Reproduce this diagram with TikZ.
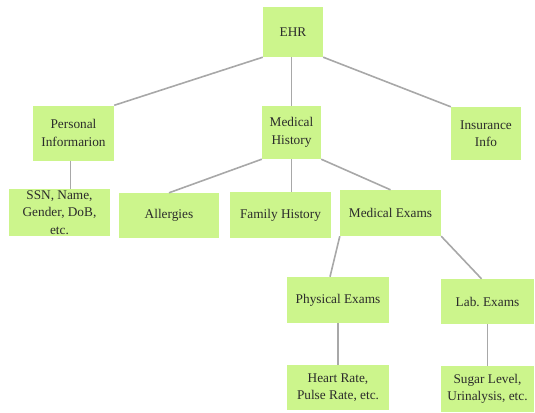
\documentclass[tikz,border=0pt]{standalone}
\usepackage{fontspec}
\setmainfont{Liberation Serif}
\definecolor{boxgreen}{HTML}{CCF58C}
\definecolor{linkgray}{HTML}{A8A8A8}
\definecolor{inkgray}{HTML}{2B2B2B}
\begin{document}
\begin{tikzpicture}[x=1pt,y=-1pt,
  every node/.style={font=\fontsize{13.3}{17.5}\selectfont,text=inkgray},
  box/.style={fill=boxgreen,inner sep=0pt,align=center},
  link/.style={draw=linkgray,line width=1.6pt}]
\useasboundingbox (0,0) rectangle (535,412);
% top level
\node[box,minimum width=60,minimum height=50] (ehr) at (293,32) {EHR};
\node[box,minimum width=81,minimum height=55] (pers) at (73.5,133) {Personal\\Informarion};
\node[box,minimum width=59,minimum height=53] (hist) at (291.5,132.5) {Medical\\History};
\node[box,minimum width=70,minimum height=53] (ins) at (486,133.5) {Insurance\\Info};
% second level
\node[box,minimum width=101,minimum height=47] (ssn) at (59.5,212.5) {SSN, Name,\\Gender, DoB,\\etc.};
\node[box,minimum width=100,minimum height=45] (allerg) at (169,215.5) {Allergies};
\node[box,minimum width=101,minimum height=46] (fam) at (280.5,215) {Family History};
\node[box,minimum width=101,minimum height=46] (exams) at (390.5,213) {Medical Exams};
% exams
\node[box,minimum width=102,minimum height=46] (phys) at (338,300) {Physical Exams};
\node[box,minimum width=93,minimum height=45] (lab) at (487.5,301.5) {Lab.\ Exams};
\node[box,minimum width=102,minimum height=45] (heart) at (338,387.5) {Heart Rate,\\Pulse Rate, etc.};
\node[box,minimum width=93,minimum height=46] (sugar) at (487.5,389) {Sugar Level,\\Urinalysis, etc.};
% connectors
\foreach \a/\b in {ehr.south west/pers.north east, ehr.south east/ins.north west,
  hist.south west/allerg.north, hist.south east/exams.north,
  phys.south/heart.north, lab.south/sugar.north}
  \draw[link] (\a) -- (\b);
\draw[link] (hist.north) -- (ehr.south -| hist.north);
\draw[link] ([xshift=-3pt]pers.south) -- ([xshift=-3pt]pers.south |- ssn.north);
\draw[link] (hist.south) -- (hist.south |- fam.north);
\draw[link] (exams.south west) -- ([xshift=-8pt]phys.north);
\draw[link] (exams.south east) -- ([xshift=-6pt]lab.north);
\end{tikzpicture}
\end{document}
